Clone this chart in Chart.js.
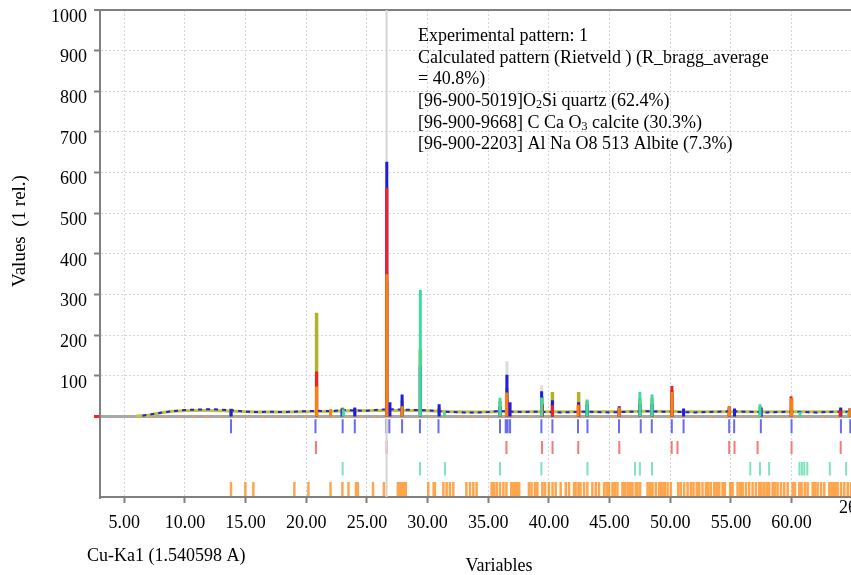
<!DOCTYPE html>
<html><head><meta charset="utf-8">
<script src="https://cdn.jsdelivr.net/npm/chart.js@4.4.1/dist/chart.umd.min.js"></script>
<style>html,body{margin:0;padding:0;background:#fff;overflow:hidden}canvas{display:block}</style>
</head><body>
<canvas id="c" width="851" height="575" style="width:851px;height:575px"></canvas>
<script>
// ---------------- DATA ----------------
const xTickValues = [5, 10, 15, 20, 25, 30, 35, 40, 45, 50, 55, 60];
const yTickValues = [0, 100, 200, 300, 400, 500, 600, 700, 800, 900, 1000];

// calculated pattern background (2theta, counts)
const calcBgTheta  = [6.0, 7.0, 8.0, 9.0, 10.0, 11.0, 12.0, 13.0, 14.0, 16.0, 18.0, 20.0, 22.0, 24.0, 26.0, 28.0, 30.0, 32.0, 34.0, 36.0, 38.0, 40.0, 44.0, 48.0, 52.0, 56.0, 60.0, 65.0];
const calcBgCounts = [1, 3, 9, 13, 14, 15, 15, 14, 13, 11, 11, 12, 13, 14, 15, 15, 14, 12, 11, 12, 12, 12, 12, 13, 12, 12, 12, 12];
// calculated pattern peaks
const calcPeakTheta  = [13.8, 20.85, 23.0, 24.0, 26.64, 27.9, 29.4, 30.95, 35.97, 36.54, 39.43, 40.29, 42.45, 43.15, 45.8, 47.5, 48.5, 50.14, 54.87, 57.4, 60.0, 64.05];
const calcPeakCounts = [20, 255, 22, 20, 330, 40, 165, 22, 38, 70, 50, 60, 60, 38, 22, 45, 45, 65, 22, 25, 45, 20];

// experimental pattern
const expBgTheta  = [6.5, 8, 9, 10, 11, 12, 13, 14, 15, 16, 17, 18, 19, 20, 21, 22, 23, 24, 25, 26, 27, 28, 29, 30, 31, 32, 33, 34, 35, 36, 37, 38, 39, 40, 41, 42, 43, 44, 45, 46, 47, 48, 49, 50, 51, 52, 53, 54, 55, 56, 57, 58, 59, 60, 61, 62, 63, 64, 65];
const expBgCounts = [2, 9, 13, 16, 17, 18, 17, 15, 12, 11, 12, 11, 12, 13, 14, 13, 16, 15, 14, 17, 18, 17, 16, 15, 13, 11, 10, 10, 11, 14, 12, 11, 12, 11, 10, 11, 12, 11, 10, 11, 12, 13, 12, 12, 11, 10, 11, 12, 13, 12, 11, 10, 11, 12, 11, 10, 11, 12, 11];
const expPeakTheta  = [13.8, 20.85, 22.95, 24.0, 26.64, 26.9, 27.9, 29.4, 30.95, 35.97, 36.54, 36.8, 39.4, 40.29, 42.45, 43.15, 45.8, 47.5, 48.5, 50.14, 51.1, 54.87, 55.3, 57.5, 60.0, 64.05, 64.8];
const expPeakCounts = [18, 103, 20, 22, 627, 35, 54, 125, 30, 25, 103, 35, 62, 40, 35, 30, 25, 30, 30, 55, 20, 25, 20, 22, 40, 22, 20];

// phase contributions
const quartzTheta  = [20.85, 26.64, 36.54, 39.47, 40.29, 42.45, 45.79, 50.14, 54.87, 59.96, 64.0];
const quartzCounts = [111, 563, 45, 30, 28, 30, 22, 75, 22, 50, 15];
const calciteTheta  = [23.05, 29.4, 31.4, 35.97, 39.4, 43.15, 47.5, 48.5, 57.4, 60.7, 64.7];
const calciteCounts = [18, 312, 10, 46, 47, 42, 60, 54, 30, 12, 12];
const albiteTheta  = [20.85, 22.0, 26.64, 27.9, 36.5, 42.4, 45.8, 50.14, 54.87, 60.0, 64.8];
const albiteCounts = [74, 18, 350, 25, 59, 28, 22, 60, 25, 45, 20];
const albiteBgTheta  = [6.0, 65.0];
const albiteBgCounts = [-1, -1];

// light grey reference trace
const greyTheta  = [36.54, 39.4];
const greyCounts = [136, 76];
const cursorTheta = 26.62;

// reflection marker rows (2theta positions)
const peakMarks = [13.8, 20.76, 23.0, 24.0, 26.6, 26.85, 27.9, 29.37, 30.9, 35.97, 36.44, 36.6, 36.8, 39.38, 40.29, 42.4, 43.18, 45.78, 47.57, 48.48, 50.13, 51.1, 54.86, 55.27, 57.47, 60.0, 64.07, 64.84];
const quartzMarks = [20.8, 26.62, 36.5, 39.43, 40.3, 42.42, 45.8, 50.12, 50.6, 54.86, 55.3, 57.2, 60.0, 64.05];
const calciteMarks = [23.0, 29.37, 31.43, 35.97, 39.38, 43.18, 47.1, 47.5, 48.5, 56.6, 57.4, 58.15, 60.65, 60.85, 61.05, 61.3, 63.15, 64.5];
const albiteMarks = [13.8, 14.98, 15.64, 19.02, 20.18, 22.0, 22.98, 23.48, 24.1, 24.25, 25.5, 26.4, 27.55, 27.7, 27.9, 28.05, 28.2, 30.06, 30.5, 30.6, 31.3, 31.57, 31.84, 32.12, 33.2, 33.5, 33.77, 34.04, 35.28, 35.47, 35.7, 35.97, 36.25, 36.5, 36.9, 37.1, 37.25, 37.4, 37.55, 38.35, 38.57, 38.85, 39.05, 39.46, 39.68, 40.0, 40.3, 40.56, 40.97, 41.39, 41.66, 42.07, 42.2, 42.43, 42.6, 42.9, 43.17, 43.58, 43.86, 44.13, 44.55, 44.77, 44.96, 45.24, 45.43, 45.65, 46.06, 46.25, 46.48, 46.69, 46.89, 47.16, 47.3, 47.52, 48.13, 48.34, 48.54, 48.81, 49.08, 49.22, 49.36, 49.55, 49.78, 50.05, 50.65, 50.87, 51.15, 51.43, 51.7, 51.92, 52.19, 52.39, 52.66, 52.94, 53.13, 53.35, 53.63, 53.84, 54.04, 54.31, 54.5, 54.94, 55.14, 55.55, 55.77, 55.97, 56.24, 56.51, 56.79, 57.06, 57.34, 57.53, 57.75, 57.97, 58.16, 58.44, 58.63, 58.85, 59.13, 59.4, 59.68, 60.09, 60.28, 60.64, 60.83, 61.1, 61.33, 61.74, 61.93, 62.15, 62.43, 62.7, 63.11, 63.25, 63.39, 63.52, 63.66, 63.8, 64.08, 64.35, 64.63, 64.9];
// marker row extents (in y units, below zero)
const markRows = { peaks: [-7, -41], quartz: [-60, -92], calcite: [-112, -145], albite: [-161, -196] };

const legendLines = [
  'Experimental pattern: 1',
  'Calculated pattern (Rietveld ) (R_bragg_average',
  '= 40.8%)',
  '[96-900-5019]O_{2}Si quartz (62.4%)',
  '[96-900-9668] C Ca O_{3} calcite (30.3%)',
  '[96-900-2203] Al Na O8 513 Albite (7.3%)'
];
const yTitle = 'Values  (1 rel.)';
const xTitle = 'Variables';
const waveText = 'Cu-Ka1 (1.540598 A)';
const cornerText = '2θ';

// ---------------- BUILDERS ----------------
const FONT = "'Liberation Serif','Times New Roman',serif";
const line = (xs, ys) => xs.map((x, i) => ({ x: x, y: ys[i] }));
function spikes(xs, ys) {
  const out = [];
  xs.forEach((x, i) => { out.push({ x: x, y: 0 }, { x: x, y: ys[i] }, { x: x, y: null }); });
  return out;
}
function marks(xs, row) {
  const out = [];
  xs.forEach(x => { out.push({ x: x, y: row[0] }, { x: x, y: row[1] }, { x: x, y: null }); });
  return out;
}
function ds(data, color, width, order, extra) {
  return Object.assign({ data: data, borderColor: color, backgroundColor: color, borderWidth: width,
    pointRadius: 0, fill: false, tension: 0, spanGaps: false, order: order }, extra || {});
}

const datasets = [
  ds(spikes(albiteTheta, albiteCounts), '#ff7f0e', 3, 0),
  ds(spikes(calciteTheta, calciteCounts), '#3cdca0', 3, 1),
  ds(spikes(quartzTheta, quartzCounts), '#f0202a', 3, 2),
  ds(spikes(expPeakTheta, expPeakCounts), '#1c1ce6', 3, 3),
  ds(line(expBgTheta, expBgCounts), '#2020e0', 2, 4, { borderDash: [4, 4] }),
  ds(spikes(calcPeakTheta, calcPeakCounts), '#b2b226', 3.5, 5),
  ds(line(calcBgTheta, calcBgCounts), '#c2c240', 3, 6),
  ds(line(albiteBgTheta, albiteBgCounts), '#ff9a40', 2, 7, { borderDash: [2, 12] }),
  ds(spikes(greyTheta, greyCounts), '#dcdcdc', 3, 8),
  ds([{ x: cursorTheta, y: -198 }, { x: cursorTheta, y: 1000 }], '#d4d4d4', 2, 9),
  ds(marks(peakMarks, markRows.peaks), '#6a6af2', 2, 10),
  ds(marks(quartzMarks, markRows.quartz), '#f57a7a', 2, 11),
  ds(marks(calciteMarks, markRows.calcite), '#7fe3bd', 2, 12),
  ds(marks(albiteMarks, markRows.albite), 'rgba(255,128,0,0.7)', 2.5, 13)
];

// ---------------- TEXT PLUGIN ----------------
function drawRich(ctx, text, x, y) {
  const parts = text.split(/_\{(.*?)\}/);
  let cx = x;
  parts.forEach((p, i) => {
    if (!p) return;
    if (i % 2 === 1) {
      ctx.font = '12px ' + FONT;
      ctx.fillText(p, cx, y + 4);
    } else {
      ctx.font = '18px ' + FONT;
      ctx.fillText(p, cx, y);
    }
    cx += ctx.measureText(p).width;
  });
}
const textPlugin = {
  id: 'texts',
  afterDraw(chart) {
    const ctx = chart.ctx;
    ctx.save();
    ctx.fillStyle = '#000';
    ctx.textBaseline = 'middle';
    ctx.textAlign = 'left';
    legendLines.forEach((ln, i) => drawRich(ctx, ln, 418, 36.5 + i * 21.6));
    ctx.font = '18px ' + FONT;
    ctx.fillText(waveText, 87, 556);
    ctx.textAlign = 'center';
    ctx.fillText(xTitle, 499, 566);
    ctx.textAlign = 'left';
    ctx.fillText(cornerText, 839, 508);
    ctx.translate(20, 231);
    ctx.rotate(-Math.PI / 2);
    ctx.textAlign = 'center';
    ctx.font = '19px ' + FONT;
    ctx.fillText(yTitle, 0, 0);
    ctx.restore();
  }
};

// ---------------- CHART ----------------
new Chart(document.getElementById('c'), {
  type: 'line',
  data: { datasets: datasets },
  plugins: [textPlugin],
  options: {
    responsive: false,
    devicePixelRatio: 1,
    animation: false,
    layout: { padding: { top: 10, left: 0, right: 0, bottom: 0 } },
    plugins: { legend: { display: false }, tooltip: { enabled: false } },
    scales: {
      x: {
        type: 'linear', min: 3.0, max: 64.9,
        afterBuildTicks: s => { s.ticks = xTickValues.map(v => ({ value: v })); },
        afterFit: s => { s.height = 78; s.paddingLeft = 0; s.paddingRight = 0; },
        ticks: { callback: v => Number(v).toFixed(2), color: '#000', font: { family: FONT, size: 18 }, padding: 9, maxRotation: 0, autoSkip: false },
        grid: { color: '#d6d6d6', lineWidth: 1, tickLength: 6, tickColor: '#808080', tickWidth: 2 },
        border: { display: true, color: '#808080', width: 2, dash: [2, 2] }
      },
      y: {
        type: 'linear', min: -198, max: 1000,
        afterBuildTicks: s => { s.ticks = yTickValues.map(v => ({ value: v })); },
        afterFit: s => { s.width = 100; s.paddingTop = 0; s.paddingBottom = 0; },
        ticks: { callback: v => (v === 0 ? '' : String(v)), color: '#000', font: { family: FONT, size: 18 }, padding: 7, labelOffset: 7 },
        grid: {
          color: c => (c.tick.value === 0 ? '#a8a8a8' : (c.tick.value === 1000 ? '#808080' : '#d6d6d6')),
          lineWidth: c => (c.tick.value === 0 ? 3 : (c.tick.value === 1000 ? 2 : 1)),
          tickLength: 6,
          tickColor: c => (c.tick.value === 0 ? '#ff2020' : '#808080'),
          tickWidth: c => (c.tick.value === 0 ? 3 : 2)
        },
        border: { display: true, color: '#808080', width: 2, dash: c => ((c.tick && (c.tick.value === 0 || c.tick.value === 1000)) ? [] : [2, 2]) }
      }
    }
  }
});
</script></body></html>
